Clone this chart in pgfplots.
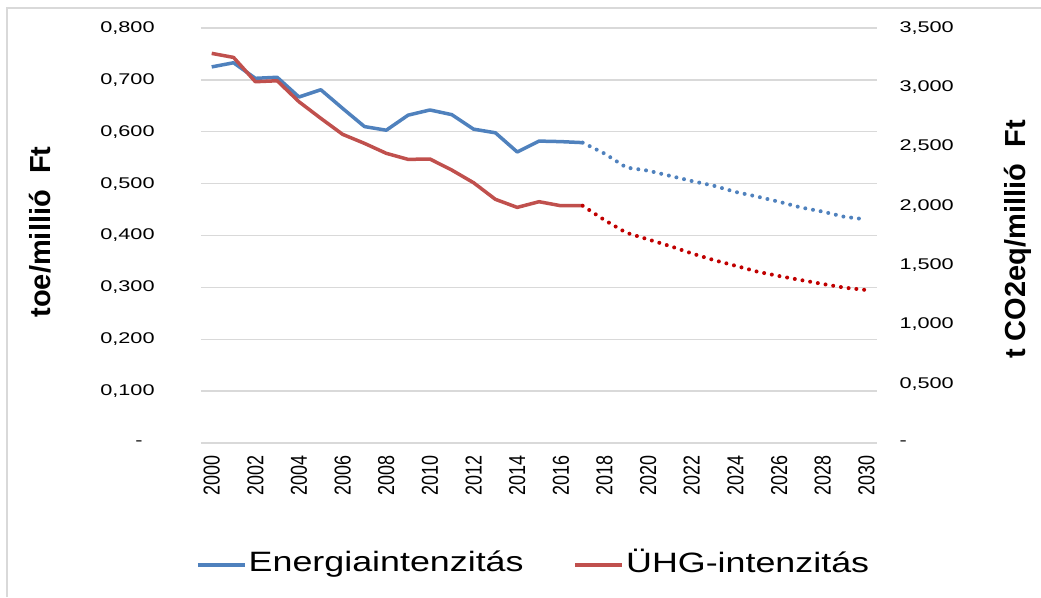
\documentclass[border=0pt]{standalone}
\usepackage{fontspec}
\setmainfont{Liberation Sans}
\newfontfamily\tickfont[FakeStretch=1.4]{Liberation Sans}
\newfontfamily\legfont[FakeStretch=1.28]{Liberation Sans}
\newfontfamily\rotfont[FakeStretch=0.78]{Liberation Sans}
\usepackage{pgfplots}
\pgfplotsset{compat=1.18}
\definecolor{eblue}{HTML}{4F81BD}
\definecolor{ered}{HTML}{C0504D}
\definecolor{dred}{HTML}{C00000}
\definecolor{gridgray}{HTML}{D9D9D9}
\begin{document}
\begin{tikzpicture}[x=1pt,y=1pt]
\useasboundingbox (-200.8,-154) rectangle (840.2,443);
\draw[gridgray, line width=2pt] (-193.8,-154) -- (-193.8,435) -- (840.2,435);
\begin{axis}[
  at={(0,0)}, anchor=south west, scale only axis,
  width=676.5pt, height=415pt,
  xmin=1999.5, xmax=2030.5, ymin=0, ymax=0.8,
  axis line style={draw=none},
  major tick length=0pt,
  ymajorgrids, grid style={gridgray, line width=1.3pt},
  xtick={2000,2002,2004,2006,2008,2010,2012,2014,2016,2018,2020,2022,2024,2026,2028,2030},
  xticklabels={2000,2002,2004,2006,2008,2010,2012,2014,2016,2018,2020,2022,2024,2026,2028,2030},
  xticklabel style={font=\rotfont\fontsize{23pt}{26pt}\selectfont, yshift=-12pt, rotate=90, anchor=east, inner sep=0pt},
  ytick={0,0.1,0.2,0.3,0.4,0.5,0.6,0.7,0.8},
  yticklabels={{-\hspace*{12pt}},{0,100},{0,200},{0,300},{0,400},{0,500},{0,600},{0,700},{0,800}},
  yticklabel style={font=\tickfont\fontsize{15.5pt}{18pt}\selectfont, anchor=east, inner sep=0pt, xshift=-46pt},
  legend columns=2,
  legend cell align=left,
  legend style={at={(-0.0071,-0.2867)}, anchor=west, draw=none, fill=none, inner sep=0pt,
    font=\legfont\fontsize{28pt}{32pt}\selectfont,
    nodes={inner xsep=2pt, inner ysep=0pt},
    /tikz/every even column/.append style={column sep=48pt}},
  legend image code/.code={\draw[#1, line width=3.5pt, line cap=butt] (0pt,-3pt) -- (47pt,-3pt);},
]
\addplot[eblue, line width=3.5pt, line join=round] coordinates {
(2000,0.725)(2001,0.733)(2002,0.703)(2003,0.705)(2004,0.667)(2005,0.681)(2006,0.645)(2007,0.610)(2008,0.603)
(2009,0.632)(2010,0.642)(2011,0.633)(2012,0.605)(2013,0.598)(2014,0.561)(2015,0.582)(2016,0.581)(2017,0.579)};
\addlegendentry{Energiaintenzitás}
\addplot[eblue, line width=4pt, line cap=round, dash pattern=on 0pt off 7.8pt, forget plot] coordinates {
(2017,0.579)(2018,0.558)(2019,0.531)(2020,0.525)(2021,0.515)(2022,0.505)(2023,0.496)(2024,0.484)(2025,0.475)
(2026,0.465)(2027,0.454)(2028,0.446)(2029,0.436)(2030,0.431)};
\addlegendimage{ered}
\addlegendentry{ÜHG-intenzitás}
\end{axis}
\begin{axis}[
  at={(0,0)}, anchor=south west, scale only axis,
  width=676.5pt, height=415pt,
  xmin=1999.5, xmax=2030.5, ymin=0, ymax=3.5,
  axis y line*=right, axis x line=none,
  axis line style={draw=none},
  major tick length=0pt,
  ytick={0,0.5,1,1.5,2,2.5,3,3.5},
  yticklabels={{-},{0,500},{1,000},{1,500},{2,000},{2,500},{3,000},{3,500}},
  yticklabel style={font=\tickfont\fontsize{15.5pt}{18pt}\selectfont, anchor=west, inner sep=0pt, xshift=22pt},
]
\addplot[ered, line width=3.5pt, line join=round] coordinates {
(2000,3.286)(2001,3.252)(2002,3.047)(2003,3.055)(2004,2.878)(2005,2.738)(2006,2.603)(2007,2.527)(2008,2.443)
(2009,2.392)(2010,2.395)(2011,2.302)(2012,2.195)(2013,2.055)(2014,1.987)(2015,2.035)(2016,2.001)(2017,2.001)};
\addplot[dred, line width=4pt, line cap=round, dash pattern=on 0pt off 7.8pt] coordinates {
(2017,2.001)(2018,1.880)(2019,1.773)(2020,1.717)(2021,1.661)(2022,1.599)(2023,1.543)(2024,1.495)(2025,1.445)
(2026,1.408)(2027,1.374)(2028,1.341)(2029,1.310)(2030,1.290)};
\end{axis}
\node[rotate=90, font=\bfseries\fontsize{29pt}{32pt}\selectfont] at (-160.8,211) {toe/millió\ \ Ft};
\node[rotate=90, font=\bfseries\fontsize{29pt}{32pt}\selectfont] at (817.2,203.5) {t CO2eq/millió\ \ Ft};
\end{tikzpicture}
\end{document}
